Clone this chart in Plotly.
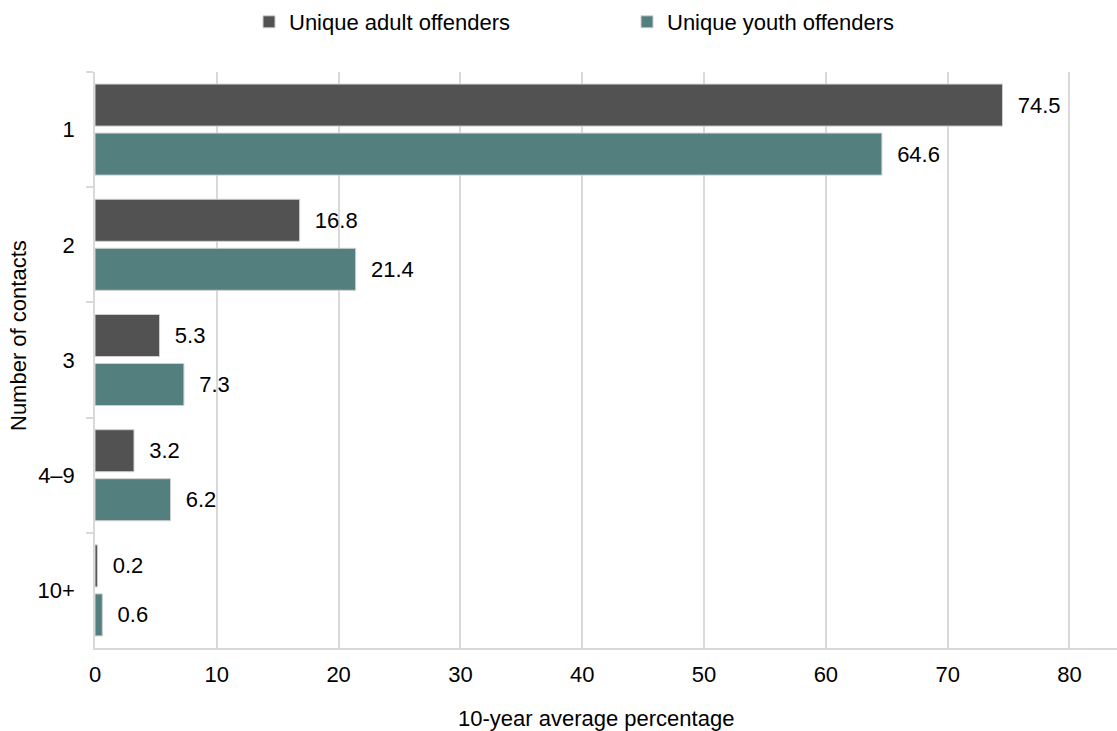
import plotly.graph_objects as go

categories = ["1", "2", "3", "4–9", "10+"]
adult_values = [74.5, 16.8, 5.3, 3.2, 0.2]
youth_values = [64.6, 21.4, 7.3, 6.2, 0.6]
series_names = ["Unique adult offenders", "Unique youth offenders"]
x_ticks = [0, 10, 20, 30, 40, 50, 60, 70, 80]

ADULT = "#525252"
YOUTH = "#537f7e"
GRID = "#d9d9d9"
FONT = "Liberation Sans, Arial, sans-serif"
FS = 22

W, H = 1117, 731
ML, MR, MT, MB = 95, 0, 72, 83
PW, PH = W - ML - MR, H - MT - MB

def px_x(p):
    return (p - ML) / PW

def px_y(p):
    return (H - MB - p) / PH

fig = go.Figure()
for name, vals, col in [(series_names[0], adult_values, ADULT),
                        (series_names[1], youth_values, YOUTH)]:
    fig.add_trace(go.Bar(
        y=categories, x=vals, name=name, orientation="h",
        marker=dict(color=col, line=dict(color="#cfcfcf", width=1)),
        text=vals, texttemplate="\u00a0\u00a0%{x:.1f}",
        textposition="outside", cliponaxis=False,
        textfont=dict(family=FONT, size=FS, color="#000000"),
    ))

fig.update_layout(
    width=W, height=H,
    margin=dict(l=ML, r=MR, t=MT, b=MB),
    paper_bgcolor="white", plot_bgcolor="white",
    font=dict(family=FONT, size=FS, color="#000000"),
    barmode="group", bargap=0.149, bargroupgap=0.143,
    showlegend=True,
    legend=dict(orientation="h", x=px_x(249), xanchor="left",
                y=px_y(22), yanchor="middle",
                font=dict(family=FONT, size=FS, color="#000000"),
                entrywidth=333, entrywidthmode="pixels",
                bgcolor="rgba(0,0,0,0)"),
    xaxis=dict(range=[0, 83.9], tickvals=x_ticks, showgrid=True,
               gridcolor=GRID, gridwidth=1.5, zeroline=False,
               showline=True, linecolor=GRID, linewidth=1.5,
               ticks="", ticklabelstandoff=6,
               tickfont=dict(family=FONT, size=FS, color="#000000")),
    yaxis=dict(autorange="reversed", type="category", showgrid=False,
               zeroline=False, showline=True, linecolor=GRID, linewidth=1.5,
               ticks="outside", tickson="boundaries", ticklen=7,
               tickcolor=GRID, tickwidth=1.5, ticklabelstandoff=14,
               tickfont=dict(family=FONT, size=FS, color="#000000")),
    annotations=[
        dict(text="Number of contacts", textangle=-90, xref="paper", yref="paper",
             x=px_x(18), y=px_y(336), xanchor="center", yanchor="middle",
             showarrow=False, font=dict(family=FONT, size=FS, color="#000000")),
        dict(text="10-year average percentage", xref="paper", yref="paper",
             x=px_x(596), y=px_y(718), xanchor="center", yanchor="middle",
             showarrow=False, font=dict(family=FONT, size=FS, color="#000000")),
    ],
)

fig.write_html("out.html",
               config={"displayModeBar": False},
               post_script="document.body.style.margin='0';document.body.style.overflow='hidden';")
